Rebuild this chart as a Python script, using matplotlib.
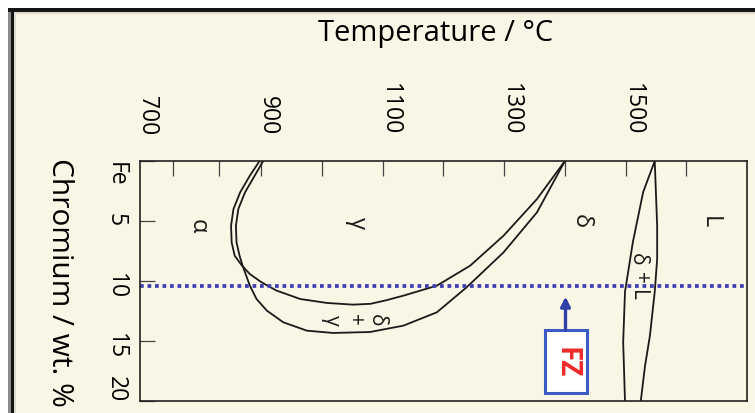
import matplotlib.pyplot as plt
from matplotlib.patches import Rectangle
from matplotlib.transforms import ScaledTranslation

plt.rcParams['font.family'] = ['Open Sans', 'DejaVu Sans']

# Fe-Cr diagram (temperature in C, chromium in wt.%)
# alpha side of the gamma loop, ending as the upper (inner) branch
loop_a_temp = [897, 881, 865, 854, 850, 851, 856, 868, 881, 900, 925, 964, 1008,
               1051, 1080, 1106, 1134, 1189, 1244, 1299, 1354, 1400]
loop_a_cr = [0, 1.22, 2.61, 4.0, 5.39, 6.78, 7.89, 8.72, 9.42, 10.1, 10.8, 11.5, 11.83,
             11.97, 11.9, 11.6, 11.22, 10.39, 8.72, 6.22, 3.17, 0]
# gamma side of the loop, ending as the lower (outer) branch
loop_b_temp = [903, 889, 873, 862, 858, 859, 864, 869, 875, 881, 892, 909, 936, 975,
               1018, 1079, 1134, 1189, 1238, 1299, 1354, 1400]
loop_b_cr = [0, 1.22, 2.61, 4.0, 5.39, 6.78, 7.89, 8.72, 9.56, 10.39, 11.5, 12.47, 13.44,
             14.14, 14.33, 14.25, 13.72, 12.61, 10.53, 7.61, 4.28, 0]
# delta + L lens
liquidus_temp = [1548, 1552, 1552, 1548, 1540, 1532, 1525]
liquidus_cr = [0, 5.42, 8.17, 10.9, 14.58, 17.08, 20]
solidus_temp = [1548, 1529, 1512, 1499, 1496, 1499]
solidus_cr = [0, 2.58, 6.75, 10.9, 15.08, 20]

alloy_cr = 10.4
fz_temp = 1401

temp_tick_marks = [755, 830, 900, 1000, 1100, 1200, 1300, 1400, 1500, 1600]
temp_labels = [700, 900, 1100, 1300, 1500]
cr_ticks = [0, 5, 10, 15, 20]
cr_labels = ['Fe', '5', '10', '15', '20']

cream = '#f9f6e5'
W, H = 755, 414
fig = plt.figure(figsize=(W / 100, H / 100), dpi=100, facecolor=cream)

# picture frame (white margin and dark border on top / left)
def px_rect(x, y, w, h, color):
    fig.add_artist(Rectangle((x / W, 1 - (y + h) / H), w / W, h / H,
                             transform=fig.transFigure, color=color, lw=0))

px_rect(0, 0, 8, H, 'white')
px_rect(0, 0, W, 9, 'white')
px_rect(8, 9, 2.5, H, '#8a8a8a')
px_rect(10.5, 9, 3.5, H, '#151515')
px_rect(8, 9, W, 4, '#151515')
px_rect(14, 13, 2, H, '#dedbd0')
px_rect(14, 13, W, 2, '#dedbd0')

ax = fig.add_axes([140 / W, 12 / H, 607 / W, 240 / H])
ax.set_facecolor(cream)
for s in ax.spines.values():
    s.set_linewidth(1.2)
    s.set_color('#222222')

line_kw = dict(color='#1a1a1a', lw=1.3, solid_joinstyle='round')
ax.plot(loop_a_temp, loop_a_cr, **line_kw)
ax.plot(loop_b_temp, loop_b_cr, **line_kw)
ax.plot(liquidus_temp, liquidus_cr, **line_kw)
ax.plot(solidus_temp, solidus_cr, **line_kw)

ax.axhline(alloy_cr, color='#3f3fb0', lw=2.7, linestyle=(0, (1, 1)))

ax.set_xlim(700, 1700)
ax.set_ylim(20, 0)

# top temperature axis
ax.xaxis.remove_overlapping_locs = False
ax.xaxis.tick_top()
ax.set_xticks(temp_tick_marks)
ax.set_xticklabels([])
ax.set_xticks(temp_labels, minor=True)
ax.set_xticklabels([str(t) for t in temp_labels], minor=True, rotation=-90, fontsize=16.5)
ax.tick_params(axis='x', which='major', direction='in', length=10.5, width=0.9,
               color='#444444', top=True, bottom=False)
ax.tick_params(axis='x', which='minor', length=0, pad=19, top=True, bottom=False)
shift = ScaledTranslation(5 / 72, 0, fig.dpi_scale_trans)
for lab in ax.get_xticklabels(minor=True):
    lab.set_transform(lab.get_transform() + shift)

# left chromium axis
ax.set_yticks(cr_ticks)
ax.set_yticklabels(cr_labels, rotation=-90, fontsize=16.5)
ax.tick_params(axis='y', direction='in', length=11, width=0.9, color='#444444', pad=9)
ylabs = ax.get_yticklabels()
ylabs[0].set_va('top')
ylabs[-1].set_va('bottom')

fig.text(436 / W, 1 - 33 / H, 'Temperature / °C', ha='center', va='center', fontsize=21)
fig.text(59 / W, 1 - 282 / H, 'Chromium / wt. %', ha='center', va='center',
         rotation=-90, fontsize=21.5)

# phase labels
big = dict(rotation=-90, ha='center', va='center', fontsize=17, color='#1a1a1a')
small = dict(rotation=-90, ha='center', va='center', fontsize=15, color='#1a1a1a')
ax.text(795, 5.35, 'α', **big)
ax.text(1057, 5.1, 'γ', **big)
ax.text(1426, 4.9, 'δ', **big)
ax.text(1639, 5.0, 'L', **big)
ax.text(1520, 8.1, 'δ', **small)
ax.text(1524, 9.67, '+', **small)
ax.text(1520, 11.1, 'L', **small)
ax.text(1015, 13.17, 'γ', **small)
ax.text(1054, 13.17, '+', **small)
ax.text(1090, 13.17, 'δ', **small)

# FZ box with arrow
ax.add_patch(Rectangle((1367, 14.1), 69, 5.25, facecolor='white', edgecolor='#3a5cc4',
                       lw=2.2, zorder=4))
ax.text(fz_temp, 16.7, 'FZ', rotation=-90, ha='center', va='center', fontsize=20,
        fontweight='bold', color='#ee2a2a', zorder=5)
ax.annotate('', xy=(fz_temp, 11.3), xytext=(fz_temp, 14.1),
            arrowprops=dict(arrowstyle='-|>', lw=2.4, color='#2f40a8',
                            mutation_scale=14, shrinkA=0, shrinkB=0), zorder=5)

fig.savefig('out.png', dpi=100, facecolor=cream)
